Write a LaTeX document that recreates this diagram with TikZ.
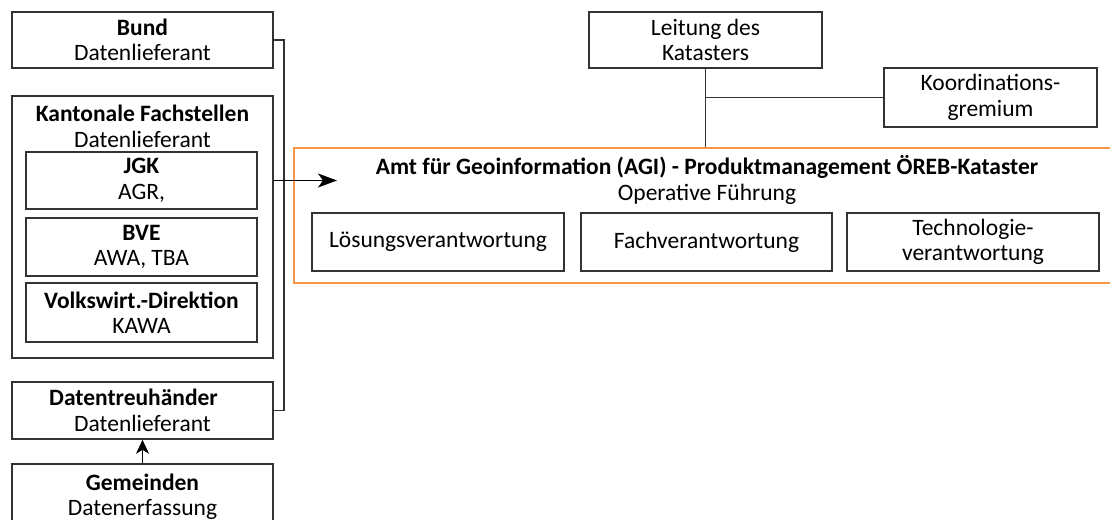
\documentclass[tikz,border=0pt]{standalone}
\usepackage{fontspec}
\setmainfont{Carlito}
\usetikzlibrary{arrows.meta}
\definecolor{boxline}{HTML}{333333}
\definecolor{agiorange}{HTML}{F79646}
\tikzset{
  txt/.style={font=\fontsize{23.5}{25.5}\selectfont, align=center, inner sep=0pt},
  box/.style={draw=boxline, line width=1.5pt, rectangle, inner sep=0pt, txt},
  conn/.style={draw=boxline, line width=1.5pt},
  arr/.style={conn, -{Stealth[length=19pt,width=14pt,inset=5pt]}},
  arrsmall/.style={conn, -{Stealth[length=14pt,width=13pt,inset=4pt]}},
}
\begin{document}
\begin{tikzpicture}[x=1pt,y=-1pt]
\useasboundingbox (0,0) rectangle (1110,519);
\clip (0,0) rectangle (1110,519);
% left column
\node[box, minimum width=261pt, minimum height=56pt] (bund) at (142.5,40) {\textbf{Bund}\\Datenlieferant};
\node[box, minimum width=261pt, minimum height=262pt] (kant) at (142.5,227) {};
\node[txt] (kanttxt) at (142.5,126.5) {\textbf{Kantonale Fachstellen}\\Datenlieferant};
\node[box, minimum width=231pt, minimum height=57pt] (jgk) at (141.5,180.5) {\textbf{JGK}\\AGR,};
\node[box, minimum width=231pt, minimum height=58pt] (bve) at (141.5,247) {\textbf{BVE}\\AWA, TBA};
\node[box, minimum width=231pt, minimum height=59pt] (vwd) at (141.5,312.5) {\textbf{Volkswirt.-Direktion}\\KAWA};
\node[box, minimum width=261pt, minimum height=57pt] (dt) at (142.5,410.5) {\textbf{Datentreuhänder}\hspace*{18pt}\\Datenlieferant};
\node[box, minimum width=261pt, minimum height=66pt] (gem) at (142.5,497) {\textbf{Gemeinden}\\Datenerfassung};
% right part
\node[box, minimum width=233pt, minimum height=56pt] (leit) at (705.5,40) {Leitung des\\Katasters};
\node[box, minimum width=213pt, minimum height=59pt] (koord) at (990.5,97.5) {Koordinations-\\gremium};
\node[draw=agiorange, line width=1.5pt, rectangle, inner sep=0pt, minimum width=826pt, minimum height=135pt] (agi) at (707,215.5) {};
\node[txt] (agitxt) at (707,180) {\textbf{Amt für Geoinformation (AGI) - Produktmanagement ÖREB-Kataster}\\Operative Führung};
\node[box, minimum width=252pt, minimum height=58pt] (loes) at (438,242) {Lösungsverantwortung};
\node[box, minimum width=251pt, minimum height=58pt] (fach) at (706.5,242) {Fachverantwortung};
\node[box, minimum width=252pt, minimum height=58pt] (tech) at (973,242) {Technologie-\\verantwortung};
\coordinate (tip) at (337,180.5);
% connectors
\draw[conn] (bund.east) -- ++(10,0) |- (dt.east);
\draw[arr, draw=black, fill=black] (kant.east |- jgk.center) -- (tip);
\draw[arrsmall, draw=black, fill=black] (gem.north) -- (dt.south);
\draw[conn] (leit.south) -- (leit.south |- agi.north);
\draw[conn] (leit.south |- koord.west) -- (koord.west);
\end{tikzpicture}
\end{document}
